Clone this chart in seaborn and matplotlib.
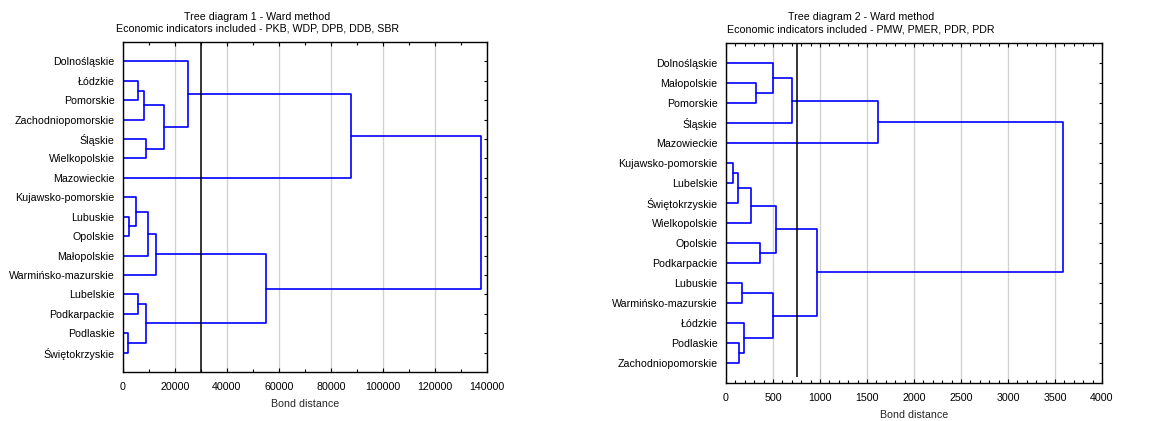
import numpy as np
import pandas as pd
import matplotlib
matplotlib.use("Agg")
import matplotlib.pyplot as plt
import seaborn as sns
from matplotlib.ticker import MultipleLocator

# ---------------- data ----------------
leaves1 = ["Dolnośląskie", "Łódzkie", "Pomorskie", "Zachodniopomorskie", "Śląskie",
           "Wielkopolskie", "Mazowieckie", "Kujawsko-pomorskie", "Lubuskie", "Opolskie",
           "Małopolskie", "Warmińsko-mazurskie", "Lubelskie", "Podkarpackie", "Podlaskie",
           "Świętokrzyskie"]
merges1 = [(1, 2), (16, 3), (4, 5), (17, 18), (0, 19), (20, 6), (8, 9), (7, 22),
           (23, 10), (24, 11), (12, 13), (14, 15), (26, 27), (25, 28), (21, 29)]
heights1 = [5900, 8200, 9000, 15700, 24900, 87500, 2400, 4900,
            9700, 12700, 5900, 1900, 8800, 55000, 137800]
cut1 = 30000
xticks1 = [0, 20000, 40000, 60000, 80000, 100000, 120000, 140000]

leaves2 = ["Dolnośląskie", "Małopolskie", "Pomorskie", "Śląskie", "Mazowieckie",
           "Kujawsko-pomorskie", "Lubelskie", "Świętokrzyskie", "Wielkopolskie", "Opolskie",
           "Podkarpackie", "Lubuskie", "Warmińsko-mazurskie", "Łódzkie", "Podlaskie",
           "Zachodniopomorskie"]
merges2 = [(1, 2), (0, 16), (17, 3), (18, 4), (5, 6), (20, 7), (21, 8), (9, 10),
           (22, 23), (11, 12), (14, 15), (13, 26), (25, 27), (24, 28), (19, 29)]
heights2 = [315, 500, 700, 1613, 75, 128, 262, 358,
            532, 174, 138, 195, 496, 965, 3585]
cut2 = 750
xticks2 = [0, 500, 1000, 1500, 2000, 2500, 3000, 3500, 4000]

title1 = "Tree diagram 1 - Ward method"
subtitle1 = "Economic indicators included - PKB, WDP, DPB, DDB, SBR"
title2 = "Tree diagram 2 - Ward method"
subtitle2 = "Economic indicators included - PMW, PMER, PDR, PDR"
xlabel = "Bond distance"

# ---------------- helpers ----------------
def link_segments(leaves, merges, heights):
    n = len(leaves)
    ypos = {i: i + 1 for i in range(n)}
    hpos = {i: 0.0 for i in range(n)}
    rows = []
    for k, ((a, b), h) in enumerate(zip(merges, heights)):
        ya, yb = ypos[a], ypos[b]
        xs = [hpos[a], h, h, hpos[b]]
        ys = [ya, ya, yb, yb]
        for j, (x, y) in enumerate(zip(xs, ys)):
            rows.append(dict(seg=k, order=j, x=x, y=y))
        ypos[n + k] = (ya + yb) / 2
        hpos[n + k] = h
    return pd.DataFrame(rows)


sns.set_style("white")
plt.rcParams['font.family'] = ['Liberation Sans', 'DejaVu Sans']
plt.rcParams['font.size'] = 7.65
plt.rcParams['axes.edgecolor'] = 'black'
plt.rcParams['text.color'] = 'black'
plt.rcParams['xtick.color'] = 'black'
plt.rcParams['ytick.color'] = 'black'

W, H = 1166, 421
fig = plt.figure(figsize=(W / 100, H / 100), dpi=100)

ax1 = fig.add_axes([123 / W, 1 - 372 / H, (487 - 123) / W, (372 - 42) / H])
ax2 = fig.add_axes([726 / W, 1 - 383 / H, (1102 - 726) / W, (383 - 43) / H])


def draw(ax, leaves, merges, heights, xticks, minor, cut, cut_end):
    df = link_segments(leaves, merges, heights)
    ax.set_axisbelow(True)
    ax.grid(axis='x', which='major', color='#d2d2d2', lw=1.0)
    ax.grid(axis='y', visible=False)
    sns.lineplot(data=df, x='x', y='y', units='seg', estimator=None, sort=False,
                 color='#0000ff', lw=1.2, ax=ax, legend=False)
    ax.vlines(cut, 0, cut_end, color='black', lw=1.1, zorder=3)
    ax.set_xlim(xticks[0], xticks[-1])
    ax.set_ylim(len(leaves) + 1, 0)
    ax.set_xticks(xticks)
    ax.set_xticklabels([str(t) for t in xticks])
    ax.xaxis.set_minor_locator(MultipleLocator(minor))
    ax.set_yticks(range(1, len(leaves) + 1))
    ax.set_yticklabels(leaves)
    ax.tick_params(axis='x', which='major', direction='in', top=True, bottom=True,
                   length=3, width=0.8, pad=7)
    ax.tick_params(axis='x', which='minor', direction='in', top=True, bottom=True,
                   length=2, width=0.8)
    ax.tick_params(axis='y', direction='in', left=False, right=True,
                   length=2.5, width=0.8, pad=6)
    ax.set_ylabel("")
    ax.set_xlabel(xlabel, labelpad=5.5)
    for s in ax.spines.values():
        s.set_visible(True)
        s.set_color('black')
        s.set_linewidth(1.0)


draw(ax1, leaves1, merges1, heights1, xticks1, 10000, cut1, len(leaves1) + 1)
draw(ax2, leaves2, merges2, heights2, xticks2, 100, cut2, 16.7)

fig.text(257 / W, 1 - 16.7 / H, title1, ha='center', va='center')
fig.text(257 / W, 1 - 28.3 / H, subtitle1, ha='center', va='center')
fig.text(861 / W, 1 - 17.5 / H, title2, ha='center', va='center')
fig.text(861 / W, 1 - 29.3 / H, subtitle2, ha='center', va='center')

fig.savefig("out.png", dpi=100)
